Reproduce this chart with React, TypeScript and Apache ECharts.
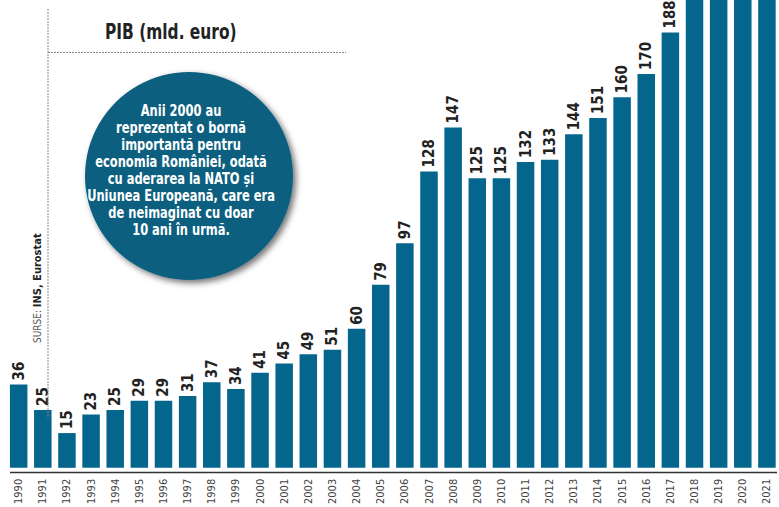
import React, { useEffect, useRef } from "react";
import * as echarts from "echarts";

const years = ["1990","1991","1992","1993","1994","1995","1996","1997","1998","1999","2000","2001","2002","2003","2004","2005","2006","2007","2008","2009","2010","2011","2012","2013","2014","2015","2016","2017","2018","2019","2020","2021"];
const gdp = [36,25,15,23,25,29,29,31,37,34,41,45,49,51,60,79,97,128,147,125,125,132,133,144,151,160,170,188,204,223,220,240];
const titleText = "PIB (mld. euro)";
const noteLines = [
  "Anii 2000 au",
  "reprezentat o bornă",
  "importantă pentru",
  "economia României, odată",
  "cu aderarea la NATO și",
  "Uniunea Europeană, care era",
  "de neimaginat cu doar",
  "10 ani în urmă.",
];
const sourceLabel = "SURSE:";
const sourceText = "INS, Eurostat";

const FONT = "'DejaVu Sans Condensed', 'Liberation Sans Narrow', 'DejaVu Sans', sans-serif";
const BAR = "#04668c";
const Y_MAX = 202;

export default function App() {
  const ref = useRef<HTMLDivElement>(null);
  useEffect(() => {
    if (!ref.current) return;
    const chart = echarts.init(ref.current, null, { renderer: "svg" });
    const barData = gdp.map((v) => ({
      value: v,
      label: { show: v <= 190 },
    }));
    chart.setOption({
      animation: false,
      backgroundColor: "#ffffff",
      grid: { left: 6.6, top: 0, width: 776, height: 472, containLabel: false },
      xAxis: {
        type: "category",
        data: years,
        axisLine: { show: false },
        axisTick: { show: false },
        axisLabel: {
          rotate: 90,
          margin: 11,
          fontSize: 11,
          color: "#444",
          fontFamily: FONT,
          interval: 0,
        },
      },
      yAxis: { type: "value", min: 0, max: Y_MAX, show: false, splitLine: { show: false } },
      series: [
        {
          type: "bar",
          data: barData,
          barWidth: 17.5,
          clip: true,
          itemStyle: { color: BAR },
          label: {
            show: true,
            position: "top",
            rotate: 90,
            align: "left",
            verticalAlign: "middle",
            distance: 4,
            fontSize: 15,
            fontWeight: "bold",
            fontFamily: FONT,
            color: "#222",
          },
        },
      ],
      graphic: [
        {
          type: "line",
          shape: { x1: 10, y1: 472.5, x2: 777, y2: 472.5 },
          style: { stroke: "#333", lineWidth: 1.5 },
          z: 10,
        },
        {
          type: "line",
          shape: { x1: 48, y1: 9, x2: 48, y2: 418 },
          style: { stroke: "#888", lineWidth: 1, lineDash: [2, 1] },
          z: 10,
        },
        {
          type: "line",
          shape: { x1: 48, y1: 52.5, x2: 346, y2: 52.5 },
          style: { stroke: "#888", lineWidth: 1, lineDash: [2, 1] },
          z: 10,
        },
        {
          type: "text",
          x: 105,
          y: 32,
          scaleX: 0.78,
          style: {
            text: titleText,
            fontSize: 22,
            fontWeight: "bold",
            fontFamily: FONT,
            fill: "#222",
            align: "left",
            verticalAlign: "middle",
          },
          z: 10,
        },
        {
          type: "text",
          x: 37,
          y: 343,
          rotation: Math.PI / 2,
          style: {
            text: "{a|" + sourceLabel + " }{b|" + sourceText + "}",
            align: "left",
            verticalAlign: "middle",
            rich: {
              a: { fontSize: 10, fontFamily: FONT, fill: "#555", fontWeight: "normal" },
              b: { fontSize: 11, fontFamily: FONT, fill: "#222", fontWeight: "bold" },
            },
          },
          z: 10,
        },
        {
          type: "circle",
          shape: { cx: 189, cy: 176, r: 104 },
          style: {
            fill: "#0d5f80",
            shadowBlur: 6,
            shadowOffsetX: 3,
            shadowOffsetY: 3,
            shadowColor: "rgba(0,0,0,0.55)",
          },
          z: 20,
        },
        {
          type: "text",
          x: 181,
          y: 170,
          scaleX: 0.85,
          style: {
            text: noteLines.join("\n"),
            fontSize: 15,
            lineHeight: 17,
            fontWeight: "bold",
            fontFamily: FONT,
            fill: "#ffffff",
            align: "center",
            verticalAlign: "middle",
          },
          z: 21,
        },
      ],
    });
    return () => chart.dispose();
  }, []);
  return (
    <div
      ref={ref}
      style={{ position: "absolute", left: 0, top: 0, width: 779, height: 507 }}
    />
  );
}
